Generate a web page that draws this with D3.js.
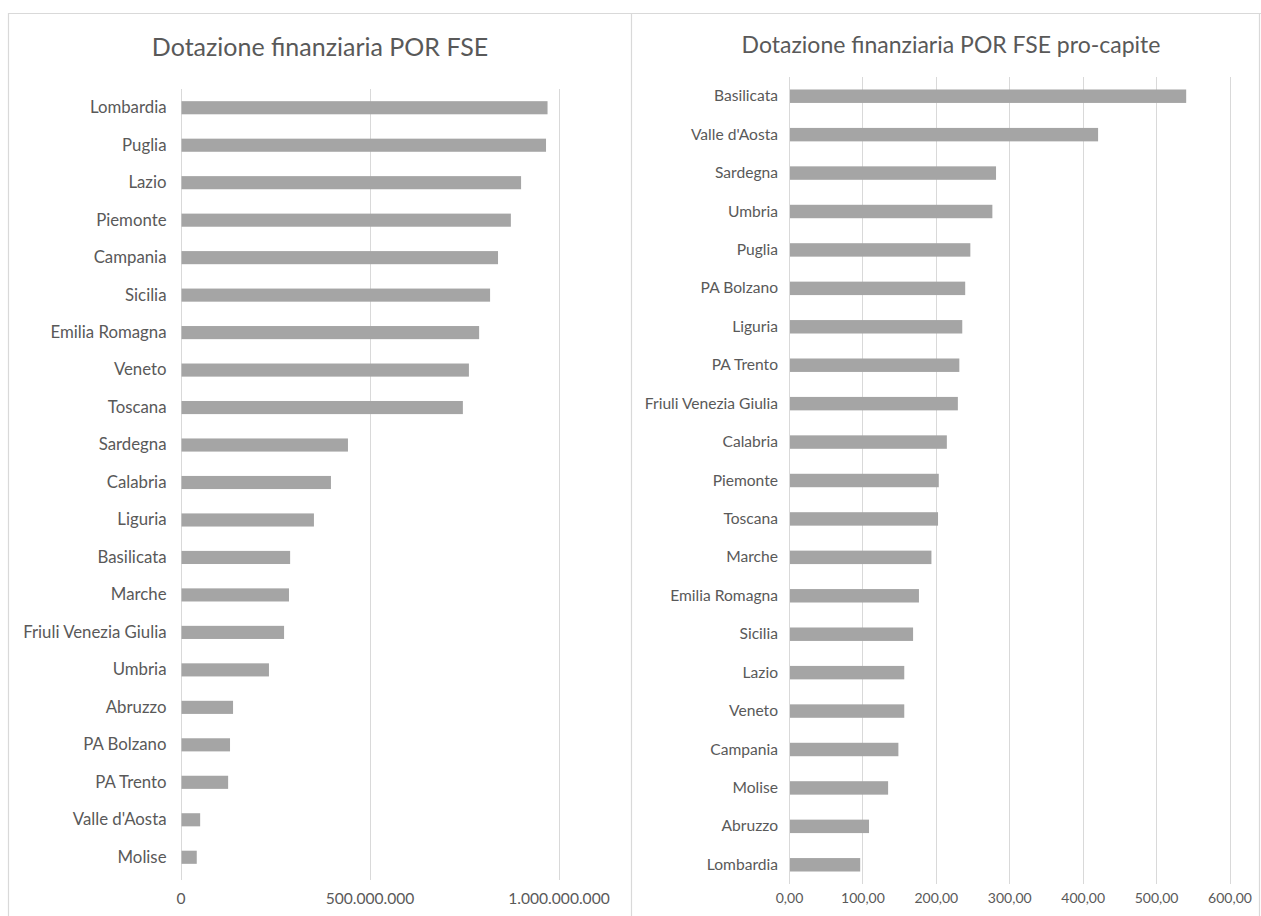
<!DOCTYPE html>
<html>
<head>
<meta charset="utf-8">
<script src="https://cdn.jsdelivr.net/npm/d3@7"></script>
<style>
  html, body { margin: 0; padding: 0; background: #fff; }
  svg { display: block; }
  text { font-family: Lato, "Open Sans", sans-serif; fill: #595959; }
</style>
</head>
<body>
<svg id="chart" width="1261" height="916"></svg>
<script>
// Dotazione finanziaria POR FSE (euro), per regione
const regioniTotale = ["Lombardia", "Puglia", "Lazio", "Piemonte", "Campania", "Sicilia",
  "Emilia Romagna", "Veneto", "Toscana", "Sardegna", "Calabria", "Liguria", "Basilicata",
  "Marche", "Friuli Venezia Giulia", "Umbria", "Abruzzo", "PA Bolzano", "PA Trento",
  "Valle d'Aosta", "Molise"];
const dotazioneTotale = [971e6, 967e6, 901e6, 874e6, 840e6, 819e6, 790e6, 763e6, 747e6,
  443e6, 398e6, 353e6, 290e6, 287e6, 274e6, 234e6, 139e6, 131e6, 126e6, 52e6, 43e6];
const tickTotale = [0, 500e6, 1000e6];

// Dotazione finanziaria POR FSE pro-capite (euro per abitante)
const regioniProCapite = ["Basilicata", "Valle d'Aosta", "Sardegna", "Umbria", "Puglia",
  "PA Bolzano", "Liguria", "PA Trento", "Friuli Venezia Giulia", "Calabria", "Piemonte",
  "Toscana", "Marche", "Emilia Romagna", "Sicilia", "Lazio", "Veneto", "Campania",
  "Molise", "Abruzzo", "Lombardia"];
const dotazioneProCapite = [541, 421, 282, 277, 247, 240, 236, 232, 230, 215, 204, 203,
  194, 177, 169, 157, 157, 149, 135, 109, 97];
const tickProCapite = [0, 100, 200, 300, 400, 500, 600];

const svg = d3.select("#chart");
const GRID = "#d9d9d9", BAR = "#a5a5a5";

// Panel frames
svg.append("path")
  .attr("d", "M8.5,916V13.5H1261 M631.5,13.5V916 M1259.5,13.5V916")
  .attr("fill", "none").attr("stroke", GRID).attr("stroke-width", 1.2);

const itFormat = d3.formatLocale({ decimal: ",", thousands: ".", grouping: [3], currency: ["€", ""] });

function drawPanel(cfg) {
  const g = svg.append("g");
  const x = d3.scaleLinear().domain(cfg.domain).range(cfg.xRange);
  const y = d3.scaleBand().domain(cfg.categories).range(cfg.yRange)
    .paddingInner(0.65).paddingOuter(0.325);

  g.append("text")
    .attr("x", cfg.titleX).attr("y", cfg.titleY)
    .attr("text-anchor", "middle")
    .style("font-size", cfg.titleSize + "px")
    .text(cfg.title);

  // vertical gridlines
  g.append("g").selectAll("line").data(cfg.ticks).join("line")
    .attr("x1", d => Math.round(x(d)) + 0.5).attr("x2", d => Math.round(x(d)) + 0.5)
    .attr("y1", cfg.yRange[0]).attr("y2", cfg.gridBottom)
    .attr("stroke", GRID).attr("stroke-width", 1);

  // bars
  g.append("g").selectAll("rect").data(cfg.values).join("rect")
    .attr("x", x(0) + 1)
    .attr("y", (d, i) => y(cfg.categories[i]))
    .attr("width", d => x(d) - x(0) - 1)
    .attr("height", y.bandwidth())
    .attr("fill", BAR);

  // category axis
  const yAxis = g.append("g")
    .attr("transform", `translate(${x(0)},0)`)
    .call(d3.axisLeft(y).tickSize(0).tickPadding(cfg.labelPad));
  yAxis.select(".domain").remove();
  yAxis.selectAll("text").style("font-size", cfg.labelSize + "px").attr("fill", "#595959");

  // value axis
  const xAxis = g.append("g")
    .attr("transform", `translate(0,${cfg.tickY})`)
    .call(d3.axisBottom(x).tickValues(cfg.ticks).tickSize(0).tickPadding(0)
      .tickFormat(cfg.format));
  xAxis.select(".domain").remove();
  xAxis.selectAll("text").style("font-size", cfg.tickSize + "px").attr("fill", "#595959");
}

drawPanel({
  title: "Dotazione finanziaria POR FSE", titleX: 320, titleY: 56, titleSize: 25,
  categories: regioniTotale, values: dotazioneTotale, ticks: tickTotale,
  domain: [0, 1e9], xRange: [180.5, 558.5], yRange: [89, 876], gridBottom: 880,
  labelPad: 14, labelSize: 16.8, tickY: 893, tickSize: 15.6,
  format: itFormat.format(",.0f")
});

drawPanel({
  title: "Dotazione finanziaria POR FSE pro-capite", titleX: 951, titleY: 53, titleSize: 23,
  categories: regioniProCapite, values: dotazioneProCapite, ticks: tickProCapite,
  domain: [0, 600], xRange: [789, 1229.5], yRange: [77, 884], gridBottom: 884,
  labelPad: 11, labelSize: 15.6, tickY: 893, tickSize: 14,
  format: itFormat.format(",.2f")
});
</script>
</body>
</html>
